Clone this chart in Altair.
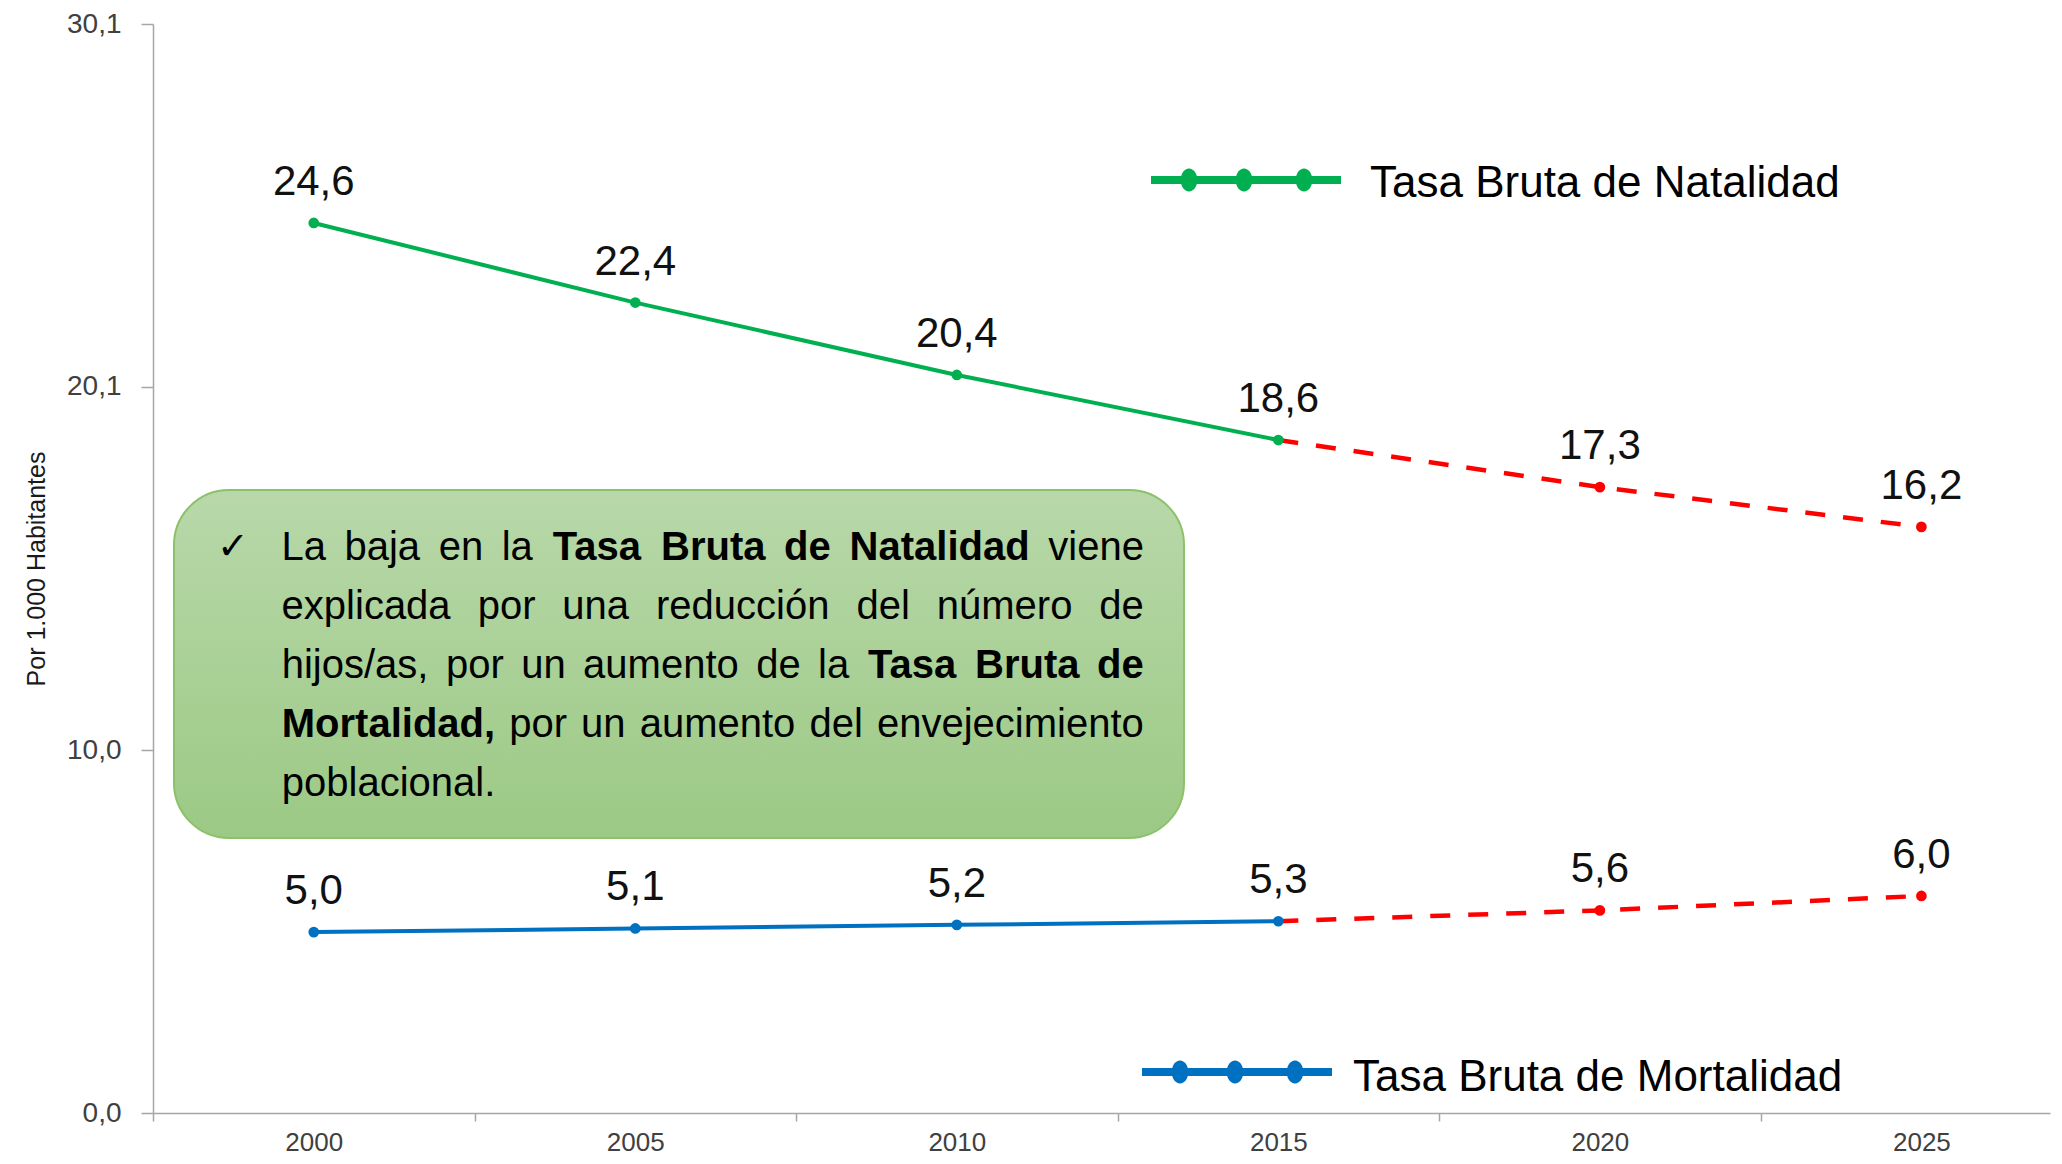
import altair as alt
import pandas as pd

# ---------------- data ----------------
years = [2000, 2005, 2010, 2015, 2020, 2025]
natalidad = [24.6, 22.4, 20.4, 18.6, 17.3, 16.2]
mortalidad = [5.0, 5.1, 5.2, 5.3, 5.6, 6.0]
ultimo_observado = 2015
y_tick_values = [0.0, 10.0333, 20.0667, 30.1]
serie_nat = "Tasa Bruta de Natalidad"
serie_mort = "Tasa Bruta de Mortalidad"
y_title = "Por 1.000 Habitantes"
grupos = ["Natalidad", "Mortalidad", "Proyección"]
colores = ["#00B050", "#0070C0", "#FF0000"]

# ---------------- layout (pixels of the 2062x1164 page) ----------------
PL, PT, W, H = 153, 24, 1897, 1089
X0, X1, Y0, Y1 = 1997.5, 2027.0, 0.0, 30.1
S = 2062 / 1568


def xd(px):
    return X0 + (px - PL) / W * (X1 - X0)


def yd(py):
    return Y0 + (PT + H - py) / H * (Y1 - Y0)


half_band = 2.5 * W / (X1 - X0)

REG = "Liberation Sans, Arial, sans-serif"

# ---------------- tables ----------------
rows = []
for grupo, serie, vals in [("Natalidad", serie_nat, natalidad), ("Mortalidad", serie_mort, mortalidad)]:
    for a, v in zip(years, vals):
        rows.append({"anio": a, "valor": v, "serie": serie, "base": grupo})
df = pd.DataFrame(rows)
df["grupo"] = [b if a <= ultimo_observado else "Proyección" for a, b in zip(df["anio"], df["base"])]
obs = df[df["anio"] <= ultimo_observado].copy()
obs["grupo"] = obs["base"]
proj = df[df["anio"] >= ultimo_observado].copy()
proj["grupo"] = "Proyección"

color = alt.Color("grupo:N", scale=alt.Scale(domain=grupos, range=colores), legend=None)
xscale = alt.Scale(domain=[X0, X1], nice=False, zero=False)
yscale = alt.Scale(domain=[Y0, Y1], nice=False, zero=False)

X = alt.X(
    "anio:Q",
    scale=xscale,
    title=None,
    axis=alt.Axis(
        values=years,
        format="d",
        grid=False,
        domainColor="#a6a6a6",
        domainWidth=1.5,
        tickColor="#a6a6a6",
        tickWidth=1.5,
        tickSize=8,
        tickOffset=-half_band,
        labelOffset=half_band,
        labelFont=REG,
        labelFontSize=26,
        labelColor="#404040",
        labelPadding=8,
        labelFlush=False,
        labelOverlap=False,
    ),
)
Y = alt.Y(
    "valor:Q",
    scale=yscale,
    title=y_title,
    axis=alt.Axis(
        values=y_tick_values,
        labelExpr="replace(format(datum.value, '.1f'), '.', ',')",
        grid=False,
        domainColor="#a6a6a6",
        domainWidth=1.5,
        tickColor="#a6a6a6",
        tickWidth=1.5,
        tickSize=12,
        labelFont=REG,
        labelFontSize=28,
        labelColor="#404040",
        labelPadding=20,
        labelFlush=False,
        labelOverlap=False,
        titleFont=REG,
        titleFontSize=25,
        titleFontWeight="normal",
        titleColor="#1a1a1a",
        titleAngle=-90,
        titleX=36 - PL,
        titleY=H / 2,
        titleAlign="center",
        titleBaseline="middle",
    ),
)
Xp = alt.X("anio:Q", scale=xscale)
Yp = alt.Y("valor:Q", scale=yscale)

# text box
box_df = pd.DataFrame([{"anio": xd(174), "anio2": xd(1184), "valor": yd(490), "valor2": yd(838)}])
box = alt.Chart(box_df).mark_rect(
    cornerRadius=55,
    stroke="#8cc16b",
    strokeWidth=2,
    fill=alt.Gradient(
        gradient="linear",
        stops=[alt.GradientStop(color="#b8d8a9", offset=0), alt.GradientStop(color="#9cc985", offset=1)],
        x1=0, x2=0, y1=0, y2=1,
    ),
).encode(x=X, x2="anio2:Q", y=Y, y2="valor2:Q")

lines_obs = alt.Chart(obs).mark_line(strokeWidth=4).encode(x=Xp, y=Yp, color=color, detail="serie:N")
lines_proj = alt.Chart(proj).mark_line(strokeWidth=4.5, strokeDash=[20, 18]).encode(
    x=Xp, y=Yp, color=color, detail="serie:N"
)
pts = alt.Chart(df).mark_point(filled=True, opacity=1, size=115, shape="circle").encode(x=Xp, y=Yp, color=color)
labels = alt.Chart(df).transform_calculate(
    label="replace(format(datum.valor, '.1f'), '.', ',')"
).mark_text(font=REG, fontSize=42, color="#111111", baseline="alphabetic", dy=-28).encode(
    x=Xp, y=Yp, text="label:N"
)

# legends
leg_lines = pd.DataFrame([
    {"grupo": "Natalidad", "anio": xd(1151), "anio2": xd(1341), "valor": yd(180)},
    {"grupo": "Mortalidad", "anio": xd(1142), "anio2": xd(1332), "valor": yd(1072)},
])
leg_rule = alt.Chart(leg_lines).mark_rule(strokeWidth=8).encode(x=Xp, x2="anio2:Q", y=Yp, color=color)
leg_pts_rows = []
for g, start, ypx in [("Natalidad", 1151, 180), ("Mortalidad", 1142, 1072)]:
    for off in (38, 93, 153):
        leg_pts_rows.append({"grupo": g, "anio": xd(start + off), "valor": yd(ypx)})
leg_pts = alt.Chart(pd.DataFrame(leg_pts_rows)).mark_point(
    filled=True, opacity=1, size=529, shape="M0,-1A0.72,1,0,1,1,0,1A0.72,1,0,1,1,0,-1Z"
).encode(x=Xp, y=Yp, color=color)
leg_txt = alt.Chart(pd.DataFrame([
    {"t": serie_nat, "anio": xd(1370), "valor": yd(197)},
    {"t": serie_mort, "anio": xd(1353), "valor": yd(1091)},
])).mark_text(font=REG, fontSize=44, align="left", baseline="alphabetic", color="#000000").encode(
    x=Xp, y=Yp, text="t:N"
)

# paragraph inside the box (justified: word centres in reference display px)
words = [
    (0, "La", 0, 231.0), (0, "baja", 0, 290.7), (0, "en", 0, 350.5), (0, "la", 0, 393.3),
    (0, "Tasa", 1, 453.9), (0, "Bruta", 1, 542.4), (0, "de", 1, 614.0), (0, "Natalidad", 1, 714.5),
    (0, "viene", 0, 833.5),
    (1, "explicada", 0, 278.4), (1, "por", 0, 385.2), (1, "una", 0, 453.0), (1, "reducción", 0, 564.8),
    (1, "del", 0, 671.6), (1, "número", 0, 763.9), (1, "de", 0, 852.9),
    (2, "hijos/as,", 0, 270.0), (2, "por", 0, 361.1), (2, "un", 0, 413.2), (2, "aumento", 0, 502.6),
    (2, "de", 0, 592.0), (2, "la", 0, 633.9), (2, "Tasa", 1, 693.6), (2, "Bruta", 1, 781.2), (2, "de", 1, 851.9),
    (3, "Mortalidad,", 1, 295.4), (3, "por", 0, 409.3), (3, "un", 0, 458.8), (3, "aumento", 0, 545.6),
    (3, "del", 0, 635.8), (3, "envejecimiento", 0, 768.3),
    (4, "poblacional.", 0, 295.5),
]
wrows = []
for ln, t, b, xc in words:
    wrows.append({"t": t, "bold": b, "anio": xd(xc * S), "valor": yd(548 + ln * 59)})
wdf = pd.DataFrame(wrows)
w_reg = alt.Chart(wdf[wdf["bold"] == 0]).mark_text(
    font=REG, fontSize=40, align="center", baseline="middle", color="#000000"
).encode(x=Xp, y=Yp, text="t:N")
w_bold = alt.Chart(wdf[wdf["bold"] == 1]).mark_text(
    font=REG, fontSize=40, fontWeight="bold", align="center", baseline="middle", color="#000000"
).encode(x=Xp, y=Yp, text="t:N")
check = alt.Chart(pd.DataFrame([{"t": "✓", "anio": xd(233), "valor": yd(548)}])).mark_text(
    font="DejaVu Sans", fontSize=38, align="center", baseline="middle", color="#000000"
).encode(x=Xp, y=Yp, text="t:N")

chart = alt.layer(
    box, lines_obs, lines_proj, pts, labels, leg_rule, leg_pts, leg_txt, w_reg, w_bold, check
).properties(
    width=W, height=H,
    autosize=alt.AutoSizeParams(type="none"),
    padding={"left": PL - 8, "top": PT - 8, "right": 4, "bottom": 43},
).configure_view(stroke=None)

chart.save("out.html", embed_options={"renderer": "svg", "actions": False})
